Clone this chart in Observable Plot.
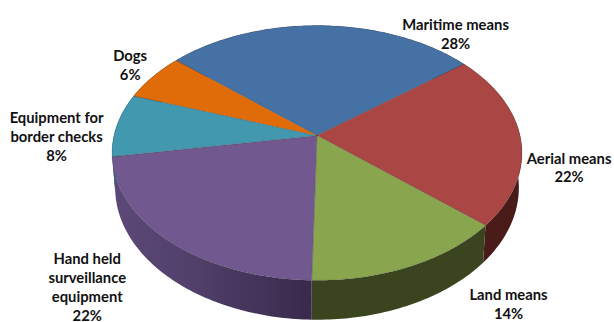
<!DOCTYPE html>
<html>
<head>
<meta charset="utf-8">
<script src="https://cdn.jsdelivr.net/npm/d3@7"></script>
<script src="https://cdn.jsdelivr.net/npm/@observablehq/plot@0.6"></script>
<style>html,body{margin:0;padding:0;background:#fff}svg{display:block}</style>
</head>
<body>
<div id="chart"></div>
<script>
const categories = ["Maritime means", "Aerial means", "Land means", "Hand held\nsurveillance\nequipment", "Equipment for\nborder checks", "Dogs"];
const shares = [28, 22, 14, 22, 8, 6];
const colors = ["#4571A5", "#AA4643", "#89A54E", "#71588F", "#4198AF", "#E06C09"];
const wallColors = ["#2f4d70", "#4a1c19", "#3a4520", "url(#purpleWall)", "#2c6777", "#984a06"];

// Appearance of the tilted disc (separate from the data)
const startAngle = -49.1, cx = 316.5, cy = 135, A = 203, B = 125, p = 0.137, depth = 34, shrink = 0.985;
const labelShift = [[134.5, 7.5], [48.5, 28.6], [97.5, 37.5], [-81.5, 45.5], [-60.5, 10.9], [-22.5, -12]];

const rad = d => d * Math.PI / 180;
const rim = deg => {
  const u = Math.sin(rad(deg)), v = Math.cos(rad(deg)), w = 1 + p * v;
  return [cx + A * u / w, cy - B * v / w, w];
};
const floorRim = deg => {
  const [x, y, w] = rim(deg);
  return [cx + (x - cx) * shrink, y + depth / w];
};

let acc = startAngle;
const slices = shares.map((s, i) => {
  const a0 = acc, a1 = acc + s * 3.6;
  acc = a1;
  return {i, a0, a1, mid: (a0 + a1) / 2};
});

const arcAngles = (a0, a1) => {
  const out = [];
  for (let a = a0; a < a1; a += 1) out.push(a);
  out.push(a1);
  return out;
};

// Side walls: rim arc out, floor arc back
const wallFaces = [];
slices.forEach(({i, a0, a1}) => {
  const angles = arcAngles(a0, a1);
  angles.forEach(a => { const [x, y] = rim(a); wallFaces.push({id: i, x, y, fill: wallColors[i]}); });
  angles.slice().reverse().forEach(a => { const [x, y] = floorRim(a); wallFaces.push({id: i, x, y, fill: wallColors[i]}); });
});

// Top faces
const topFaces = [];
slices.forEach(({i, a0, a1}) => {
  topFaces.push({id: i, x: cx, y: cy, fill: colors[i]});
  arcAngles(a0, a1).forEach(a => { const [x, y] = rim(a); topFaces.push({id: i, x, y, fill: colors[i]}); });
  topFaces.push({id: i, x: cx, y: cy, fill: colors[i]});
});

const labelRows = slices.map(({i, mid}) => {
  const [x, y] = rim(mid);
  return {
    text: categories[i] + "\n" + shares[i] + "%",
    x: x + labelShift[i][0],
    y: y + labelShift[i][1]
  };
});

const gradientDefs = () => {
  const defs = d3.create("svg:defs");
  const g = defs.append("linearGradient").attr("id", "purpleWall")
    .attr("gradientUnits", "userSpaceOnUse")
    .attr("x1", 117).attr("x2", 310).attr("y1", 0).attr("y2", 0);
  [[0, "#5c4876"], [0.4, "#50406a"], [0.75, "#43335a"], [1, "#39294a"]].forEach(([o, c]) =>
    g.append("stop").attr("offset", o).attr("stop-color", c));
  return defs.node();
};

const chart = Plot.plot({
  width: 614,
  height: 322,
  margin: 0,
  x: {domain: [0, 614], range: [0, 614], axis: null},
  y: {domain: [0, 322], range: [0, 322], axis: null},
  color: {type: "identity"},
  style: {background: "#fff"},
  marks: [
    gradientDefs,
    Plot.line(wallFaces, {x: "x", y: "y", z: "id", fill: "fill", curve: "linear-closed", stroke: "none"}),
    Plot.line(topFaces, {x: "x", y: "y", z: "id", fill: "fill", stroke: "#3a3a3a", strokeOpacity: 0.3, strokeWidth: 0.7}),
    Plot.text(labelRows, {
      x: "x", y: "y", text: "text",
      fontFamily: "Lato", fontWeight: 700, fontSize: 14.8, lineHeight: 1.28,
      fill: "#111", textAnchor: "middle", lineAnchor: "middle"
    })
  ]
});
document.getElementById("chart").append(chart);
</script>
</body>
</html>
